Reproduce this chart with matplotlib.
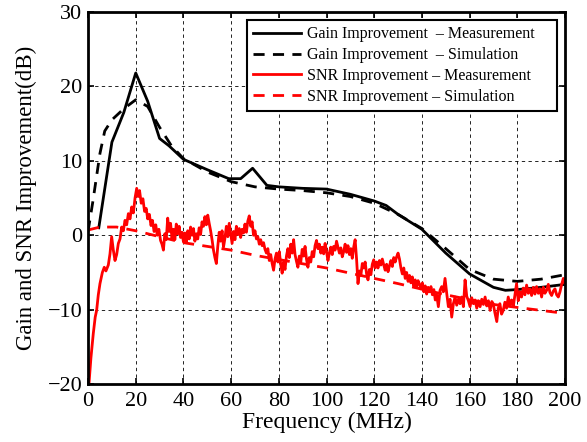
import numpy as np
import matplotlib.pyplot as plt

plt.rcParams['font.family'] = ['Liberation Serif', 'DejaVu Serif']

# Gain improvement, measured
gain_meas_f = [4.5, 10, 15, 20, 25, 30, 34, 40, 50, 59, 64, 69, 75, 80, 90, 100,
               110, 120, 125, 130, 140, 150, 160, 170, 175, 180, 190, 200]
gain_meas = [1.0, 12.5, 16.5, 21.8, 18.0, 13.0, 12.0, 10.2, 8.8, 7.6, 7.6, 9.0, 6.7, 6.5, 6.3, 6.2,
             5.5, 4.6, 4.0, 2.8, 0.8, -2.4, -5.2, -7.0, -7.4, -7.3, -7.0, -6.6]

# Gain improvement, simulated
gain_sim_f = [0, 2, 5, 7, 10, 15, 20, 25, 30, 35, 40, 50, 60, 70, 80, 90, 100,
              110, 120, 130, 140, 150, 160, 170, 180, 190, 200]
gain_sim = [0.5, 4.5, 11.0, 14.0, 15.5, 17.0, 18.2, 17.3, 14.5, 12.0, 10.3, 8.5, 7.2, 6.5, 6.2, 6.0, 5.7,
            5.2, 4.3, 2.8, 0.9, -1.8, -4.6, -5.9, -6.2, -5.9, -5.3]

# SNR improvement, measured
snr_meas_f = [0.4, 1.2, 2.2, 3.0, 3.6, 4.3, 5.0, 6.0, 6.8, 7.5, 8.5, 9.2, 9.9, 10.6, 11.3, 12.0,
              12.7, 13.4, 14.1, 14.8, 15.5, 16.2, 16.9, 17.6, 18.3, 19.0, 19.7, 20.4, 21.0, 21.6,
              22.3, 23.0, 23.7, 24.4, 25.0, 25.7, 26.4, 27.0, 27.7, 28.4, 29.0, 29.7, 30.4, 31.0,
              31.6, 32.2, 32.8, 33.4, 34.0, 34.6, 35.2, 35.8, 36.4, 37.0, 37.6, 38.2, 38.8, 39.4,
              40.0, 40.6, 41.2, 41.8, 42.4, 43.0, 43.6, 44.2, 44.8, 45.4, 46.0, 46.6, 47.2, 47.8,
              48.4, 49.0, 49.6, 50.2, 50.8, 51.4, 52.0, 52.6, 53.2, 53.8, 54.4, 55.0, 55.6, 56.2,
              56.8, 57.4, 58.0, 58.6, 59.2, 59.8, 60.4, 61.0, 61.6, 62.2, 62.8, 63.4, 64.0, 64.6,
              65.2, 65.8, 66.4, 67.0, 67.6, 68.2, 68.8, 69.4, 70.0, 70.6, 71.2, 71.8, 72.4, 73.0,
              73.6, 74.2, 74.8, 75.4, 76.0, 76.6, 77.2, 77.8, 78.4, 79.0, 79.6, 80.2, 80.8, 81.4,
              82.0, 82.6, 83.2, 83.8, 84.4, 85.0, 85.6, 86.2, 86.8, 87.4, 88.0, 88.6, 89.2, 89.8,
              90.4, 91.0, 91.6, 92.2, 92.8, 93.4, 94.0, 94.6, 95.2, 95.8, 96.4, 97.0, 97.6, 98.2,
              98.8, 99.4, 100.0, 100.6, 101.2, 101.8, 102.4, 103.0, 103.6, 104.2, 104.8, 105.4,
              106.0, 106.6, 107.2, 107.8, 108.4, 109.0, 109.6, 110.2, 110.8, 111.4, 112.0, 112.6,
              113.2, 113.8, 114.4, 115.0, 115.6, 116.2, 116.8, 117.4, 118.0, 118.6, 119.2, 119.8,
              120.4, 121.0, 121.6, 122.2, 122.8, 123.4, 124.0, 124.6, 125.2, 125.8, 126.4, 127.0,
              127.6, 128.2, 128.8, 129.4, 130.0, 130.6, 131.2, 131.8, 132.4, 133.0, 133.6, 134.2,
              134.8, 135.4, 136.0, 136.6, 137.2, 137.8, 138.4, 139.0, 139.6, 140.2, 140.8, 141.4,
              142.0, 142.6, 143.2, 143.8, 144.4, 145.0, 145.6, 146.2, 146.9, 147.6, 148.3, 149.0,
              149.7, 150.4, 151.1, 151.8, 152.5, 153.2, 153.9, 154.6, 155.3, 156.0, 156.7, 157.4,
              158.1, 158.8, 159.5, 160.2, 160.9, 161.6, 162.3, 163.0, 163.7, 164.4, 165.1, 165.8,
              166.5, 167.2, 167.9, 168.6, 169.3, 169.9, 170.6, 171.4, 172.0, 172.7, 173.4, 174.1,
              174.8, 175.5, 176.2, 176.9, 177.6, 178.3, 179.0, 179.7, 180.4, 181.1, 181.8, 182.5,
              183.2, 183.9, 184.6, 185.3, 186.0, 186.7, 187.4, 188.1, 188.8, 189.5, 190.2, 190.9,
              191.6, 192.3, 193.0, 193.7, 194.4, 195.1, 195.8, 196.5, 197.2, 197.9, 198.6, 199.3,
              200.0]
snr_meas = [-19.9, -16.5, -13.2, -11.0, -10.1, -8.0, -6.5, -5.0, -4.3, -4.8, -4.0, -2.5, -0.2, -2.0, -3.4, -2.6,
            -1.1, -0.5, 1.1, 0.6, 2.0, 1.4, 2.9, 2.2, 3.8, 3.0, 5.0, 6.3, 5.2, 6.0,
            4.3, 4.9, 3.2, 3.6, 2.2, 2.8, 1.3, 2.0, 0.5, 1.4, 0.0, 0.8, -0.7, -1.2,
            -2.0, 0.2, -0.6, 2.3, 0.5, 1.6, -0.4, 0.8, -0.6, 1.5, 0.2, 1.2, -0.3, 0.4,
            -0.9, 0.3, -1.0, 0.6, -0.5, 1.1, 0.0, 0.9, -0.8, 0.2, -0.5, 1.0, 0.1, 1.8,
            1.2, 2.5, 1.4, 2.7, 1.6, 0.6, -0.6, -2.0, -3.0, -3.8, -1.5, 0.4, -0.8, 0.6,
            -1.6, -0.4, 1.2, -0.2, 1.6, 0.2, -1.1, 0.5, -0.6, 1.2, 0.1, 0.9, -0.3, 0.8,
            0.3, 1.5, 0.4, 1.9, 2.6, 1.2, 1.8, 0.0, 0.6, -0.5, -0.2, -1.2, -0.6, -1.4,
            -1.0, -1.9, -2.4, -1.8, -3.4, -2.6, -3.8, -4.7, -3.2, -2.4, -3.6, -2.2, -3.9, -5.1,
            -3.6, -4.6, -2.8, -1.8, -3.0, -1.2, -2.4, -0.6, -2.6, -3.5, -4.3, -2.8, -3.6, -1.9,
            -2.8, -1.5, -3.2, -4.3, -3.0, -3.6, -2.2, -2.9, -1.4, -0.7, -1.8, -1.2, -2.4, -1.6,
            -2.5, -1.1, -2.2, -3.4, -2.4, -1.6, -2.6, -1.5, -2.0, -0.8, -1.6, -2.4,
            -1.7, -2.9, -2.2, -1.2, -2.3, -1.4, -2.6, -1.8, -3.1, -1.6, -0.6, -3.2,
            -6.5, -4.8, -5.4, -3.8, -4.4, -3.6, -5.2, -6.0, -4.6, -5.3, -3.9, -3.3,
            -4.4, -3.6, -4.4, -3.4, -4.0, -3.2, -4.0, -4.7, -3.9, -4.9, -4.1, -3.4,
            -4.2, -3.0, -3.6, -2.9, -2.4, -3.2, -4.4, -5.2, -4.4, -5.8, -5.0, -6.2,
            -5.4, -6.4, -5.6, -6.8, -6.0, -6.9, -6.1, -6.6, -7.2, -6.4, -7.6, -6.8,
            -7.9, -7.0, -7.6, -6.9, -8.0, -7.3, -8.7, -8.0, -9.6, -7.4, -6.9, -7.6,
            -5.8, -7.8, -9.6, -8.6, -11.0, -9.2, -8.3, -9.4, -8.6, -9.2, -8.3, -9.6,
            -6.0, -8.2, -8.8, -9.6, -8.4, -9.2, -8.7, -9.8, -8.8, -9.6, -8.6, -9.3,
            -8.3, -9.5, -8.8, -10.1, -8.9, -9.2, -10.4, -11.6, -9.8, -9.2, -10.6, -10.1,
            -9.0, -9.8, -8.3, -9.4, -8.7, -9.6, -8.0, -6.5, -8.8, -7.6, -8.3, -7.1,
            -8.0, -6.7, -7.8, -7.2, -8.1, -7.0, -7.9, -6.9, -7.8, -7.2, -8.3, -7.0,
            -7.8, -7.4, -6.6, -7.7, -8.1, -7.5, -7.2, -8.0, -8.3, -7.6, -6.6, -5.8,
            -6.5]

# SNR improvement, simulated
snr_sim_f = [0, 5, 12, 20, 40, 60, 70, 100, 130, 150, 170, 200]
snr_sim = [0.7, 1.1, 1.1, 0.6, -1.0, -2.0, -2.7, -4.4, -6.5, -8.0, -9.3, -10.5]

fig = plt.figure(figsize=(5.87, 4.42), dpi=100)
ax = fig.add_axes([0.150, 0.131, 0.8125, 0.842])

ax.plot(gain_meas_f, gain_meas, '-', color='k', lw=2, label='Gain Improvement  \u2013 Measurement    ')
ax.plot(gain_sim_f, gain_sim, '--', color='k', lw=2, dashes=(4, 3), label='Gain Improvement  \u2013 Simulation')
ax.plot(snr_meas_f, snr_meas, '-', color='r', lw=2, label='SNR Improvement \u2013 Measurement')
ax.plot(snr_sim_f, snr_sim, '--', color='r', lw=2, dashes=(4, 3), label='SNR Improvement \u2013 Simulation')

ax.set_xlim(0, 200)
ax.set_ylim(-20, 30)
ax.set_xticks(np.arange(0, 201, 20))
ax.set_yticks(np.arange(-20, 31, 10))
ax.grid(True, color='k', linestyle=(0, (4, 4)), lw=0.6)
ax.tick_params(direction='in', top=True, right=True, labelsize=16, width=1.2, length=4)
ax.tick_params(axis='x', pad=6)
ax.tick_params(axis='y', pad=4)
for sp in ax.spines.values():
    sp.set_linewidth(2)

ax.set_xlabel('Frequency (MHz)', fontsize=17, labelpad=0)
ax.set_ylabel('Gain and SNR Improvement(dB)', fontsize=16.5, labelpad=8)

leg = ax.legend(loc='upper right', fontsize=11.5, fancybox=False, framealpha=1,
                edgecolor='k', handlelength=3.0, labelspacing=0.3,
                borderaxespad=0.5, handletextpad=0.35, borderpad=0.4)
leg.get_frame().set_linewidth(1.5)

fig.savefig('out.png', dpi=100)
